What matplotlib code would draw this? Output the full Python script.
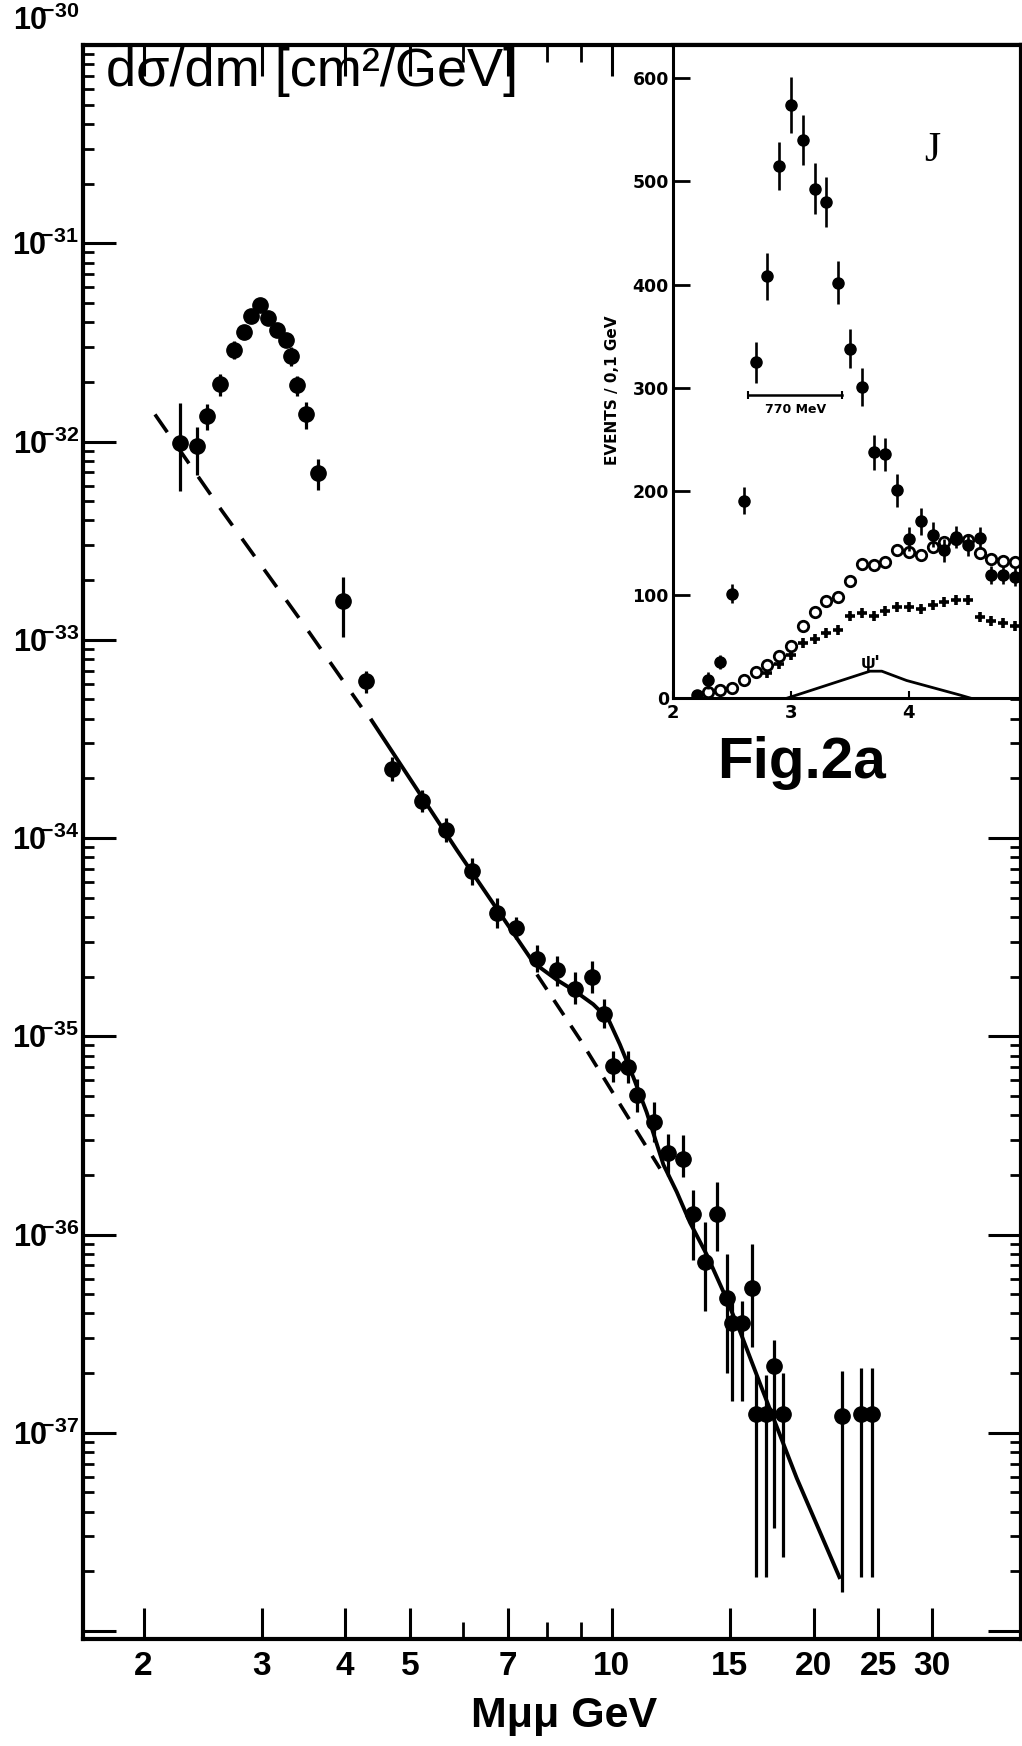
import matplotlib
matplotlib.use("Agg")
import matplotlib.pyplot as plt
from matplotlib.ticker import (FixedLocator, FixedFormatter, FuncFormatter,
                               LogLocator, NullFormatter)
from matplotlib.transforms import blended_transform_factory
import numpy as np


# main panel: d(sigma)/dm against dimuon mass (GeV, cm^2/GeV)
MASS = [2.27, 2.40, 2.49, 2.60, 2.73, 2.82, 2.89, 2.98, 3.07, 3.16, 3.26, 3.32,
        3.39, 3.50, 3.64, 3.97, 4.30, 4.69, 5.20, 5.66, 6.19, 6.73, 7.19, 7.73,
        8.29, 8.81, 9.33, 9.75, 10.05, 10.58, 10.92, 11.57, 12.14, 12.77, 13.23,
        13.75, 14.33, 14.84, 15.10, 15.63, 16.18, 16.40, 16.98, 17.44, 18.03,
        22.03, 23.57, 24.47]
SIGMA = [9.8e-33, 9.5e-33, 1.34e-32, 1.94e-32, 2.89e-32, 3.57e-32, 4.28e-32,
         4.90e-32, 4.20e-32, 3.64e-32, 3.24e-32, 2.70e-32, 1.93e-32, 1.38e-32,
         6.9e-33, 1.57e-33, 6.2e-34, 2.24e-34, 1.54e-34, 1.10e-34, 6.8e-35,
         4.18e-35, 3.52e-35, 2.44e-35, 2.17e-35, 1.74e-35, 1.99e-35, 1.30e-35,
         7.1e-36, 7.0e-36, 5.05e-36, 3.71e-36, 2.57e-36, 2.41e-36, 1.27e-36,
         7.3e-37, 1.27e-36, 4.8e-37, 3.57e-37, 3.57e-37, 5.35e-37, 1.24e-37,
         1.24e-37, 2.16e-37, 1.24e-37, 1.21e-37, 1.24e-37, 1.24e-37]
SIGMA_LO = [5.6e-33, 6.8e-33, 1.15e-32, 1.70e-32, 2.60e-32, 3.30e-32, 4.00e-32,
            4.60e-32, 3.90e-32, 3.40e-32, 3.00e-32, 2.40e-32, 1.70e-32, 1.16e-32,
            5.7e-33, 1.03e-33, 5.4e-34, 1.95e-34, 1.35e-34, 9.6e-35, 5.8e-35,
            3.5e-35, 3.1e-35, 2.1e-35, 1.8e-35, 1.45e-35, 1.65e-35, 1.1e-35,
            5.85e-36, 5.8e-36, 4.15e-36, 2.93e-36, 1.98e-36, 1.95e-36, 7.4e-37,
            4.1e-37, 8.3e-37, 2.0e-37, 1.45e-37, 1.45e-37, 2.7e-37, 1.87e-38,
            1.87e-38, 3.3e-38, 2.36e-38, 1.58e-38, 1.87e-38, 1.87e-38]
SIGMA_HI = [1.56e-32, 1.19e-32, 1.54e-32, 2.20e-32, 3.20e-32, 3.85e-32, 4.60e-32,
            5.20e-32, 4.50e-32, 3.90e-32, 3.50e-32, 3.00e-32, 2.15e-32, 1.59e-32,
            8.2e-33, 2.07e-33, 7.0e-34, 2.55e-34, 1.75e-34, 1.26e-34, 7.9e-35,
            5.0e-35, 4.0e-35, 2.9e-35, 2.55e-35, 2.1e-35, 2.4e-35, 1.55e-35,
            8.43e-36, 8.4e-36, 6.08e-36, 4.66e-36, 3.22e-36, 3.16e-36, 1.67e-36,
            1.16e-36, 1.85e-36, 8.0e-37, 4.6e-37, 4.6e-37, 9.0e-37, 1.96e-37,
            1.96e-37, 2.94e-37, 2.0e-37, 2.06e-37, 2.12e-37, 2.12e-37]

# continuum curves
CONT_DASH_X = [2.08, 2.61, 3.48, 4.23]
CONT_DASH_Y = [1.37e-32, 4.54e-33, 1.175e-33, 4.57e-34]
FIT_X = [4.38, 5.87, 7.64, 8.27, 8.81, 9.38, 9.88, 10.28, 10.77, 11.27, 11.94,
         12.50, 13.08, 13.86, 14.67, 15.54, 16.74, 18.88, 21.86]
FIT_Y = [3.92e-34, 8.70e-35, 2.35e-35, 1.93e-35, 1.69e-35, 1.45e-35, 1.22e-35,
         9.1e-36, 6.2e-36, 4.14e-36, 2.25e-36, 1.64e-36, 1.15e-36, 7.9e-37,
         5.15e-37, 3.24e-37, 1.68e-37, 5.9e-38, 1.87e-38]
NO_BUMP_X = [7.73, 8.97, 10.28, 11.80]
NO_BUMP_Y = [2.05e-35, 9.6e-36, 4.55e-36, 2.15e-36]

X_TICKS = [2, 3, 4, 5, 7, 10, 15, 20, 25, 30]
X_TICK_LABELS = ["2", "3", "4", "5", "7", "10", "15", "20", "25", "30"]
X_MINOR = [6, 8, 9]

# inset: events / 0.1 GeV
BINS = [2.2, 2.3, 2.4, 2.5, 2.6, 2.7, 2.8, 2.9, 3.0, 3.1, 3.2, 3.3, 3.4, 3.5,
        3.6, 3.7, 3.8, 3.9, 4.0, 4.1, 4.2, 4.3, 4.4, 4.5, 4.6, 4.7, 4.8, 4.9, 5.0]
J_EVENTS = [3, 17, 35, 101, 191, 325, 408, 515, 574, 540, 493, 480, 402, 338,
            301, 238, 236, 201, 154, 171, 158, 143, 156, 148, 155, 119, 119, 117,
            132]
J_ERR = [2, 8, 7, 9, 13, 20, 23, 23, 27, 24, 25, 24, 21, 19, 18, 17, 16, 16, 12,
         13, 12, 11, 11, 11, 11, 9, 9, 9, 9]
OPEN_BINS = BINS[1:]
OPEN_EVENTS = [6, 8, 10, 17, 25, 32, 41, 50, 70, 83, 94, 98, 113, 130, 129, 132,
               143, 141, 138, 146, 151, 154, 153, 140, 135, 133, 132, 125]
CROSS_BINS = BINS[6:]
CROSS_EVENTS = [24, 33, 42, 53, 57, 63, 66, 79, 82, 79, 84, 88, 88, 86, 90, 93,
                95, 95, 78, 75, 73, 70, 66]
PSI2_X = [2.97, 3.67, 3.77, 3.98, 4.43, 4.52]
PSI2_Y = [0, 26, 26, 17, 3, 0]
BAR_770 = (2.64, 3.43, 293)

plt.rcParams.update({
    "font.family": ["Liberation Sans", "DejaVu Sans"],
    "font.weight": "bold",
    "mathtext.fontset": "custom",
    "mathtext.rm": "Liberation Sans",
    "mathtext.bf": "Liberation Sans:bold",
    "mathtext.it": "Liberation Sans:italic",
    "axes.linewidth": 3,
})


def decade_text(exp):
    return r"$\mathbf{10^{\!\!\!-\!%d}}$" % (-exp)


def decade_label(value, pos):
    exp = int(round(np.log10(value)))
    # top decade is written by hand above the frame, bottom one is unlabelled
    if exp <= -38 or exp >= -30:
        return ""
    return decade_text(exp)


fig = plt.figure(figsize=(10.22, 17.46), dpi=100)
ax = fig.add_axes([0.0817, 0.0613, 0.9173, 0.9129])
ax.set_xscale("log")
ax.set_yscale("log")
ax.set_xlim(1.627, 40.8)
ax.set_ylim(10 ** -38.04, 1e-30)

sigma = np.array(SIGMA)
yerr = [sigma - np.array(SIGMA_LO), np.array(SIGMA_HI) - sigma]
ax.errorbar(MASS, SIGMA, yerr=yerr, fmt="o", color="black", ms=11,
            elinewidth=2.3, capsize=0, zorder=3)
ax.plot(CONT_DASH_X, CONT_DASH_Y, color="black", lw=2.6, dashes=(6, 4.5))
ax.plot(FIT_X, FIT_Y, color="black", lw=2.8)
ax.plot(NO_BUMP_X, NO_BUMP_Y, color="black", lw=2.6, dashes=(5, 3.5))

ax.xaxis.set_major_locator(FixedLocator(X_TICKS))
ax.xaxis.set_major_formatter(FixedFormatter(X_TICK_LABELS))
ax.xaxis.set_minor_locator(FixedLocator(X_MINOR))
ax.xaxis.set_minor_formatter(NullFormatter())
ax.yaxis.set_major_locator(LogLocator(base=10, numticks=20))
ax.yaxis.set_minor_locator(LogLocator(base=10, subs=np.arange(2, 10) * 1.0,
                                      numticks=100))
ax.yaxis.set_major_formatter(FuncFormatter(decade_label))
ax.yaxis.set_minor_formatter(NullFormatter())

ax.tick_params(which="both", direction="in", top=True, right=True,
               color="black")
ax.tick_params(axis="x", which="major", length=22, width=2.2, pad=9,
               labelsize=24)
ax.tick_params(axis="x", which="minor", length=12, width=2)
ax.tick_params(axis="y", which="major", length=24, width=2.2, pad=3,
               labelsize=22)
ax.tick_params(axis="y", which="minor", length=8, width=2)

top_label = blended_transform_factory(ax.transAxes, fig.transFigure)
ax.text(-0.0045, 0.997, decade_text(-30), transform=top_label, ha="right",
        va="top", fontsize=22)

ax.set_xlabel("Mμμ GeV", fontsize=31, fontweight="bold")
ax.xaxis.set_label_coords(0.513, -0.036)
ax.text(0.024, 0.999, "dσ/dm [cm²/GeV]", transform=ax.transAxes,
        ha="left", va="top", fontsize=39, fontweight="normal",
        family=["Liberation Sans", "DejaVu Sans"])

# inset
ins = fig.add_axes([0.6585, 0.6002, 0.3405, 0.3740])
ins.set_xlim(2.0, 4.95)
ins.set_ylim(0, 632)
ins.plot(CROSS_BINS, CROSS_EVENTS, linestyle="none", marker="+", ms=7.5,
         mew=2.6, color="black")
ins.plot(OPEN_BINS, OPEN_EVENTS, linestyle="none", marker="o", ms=7.5,
         mew=2.0, mfc="white", mec="black")
ins.errorbar(BINS, J_EVENTS, yerr=J_ERR, fmt="o", color="black", ms=8,
             elinewidth=1.9, capsize=0)
ins.plot(PSI2_X, PSI2_Y, color="black", lw=2)

ins.plot(BAR_770[:2], [BAR_770[2]] * 2, color="black", lw=1.8,
         marker="|", ms=6, mew=1.5)
ins.text(sum(BAR_770[:2]) / 2, BAR_770[2] - 14, "770 MeV", ha="center",
         va="center", fontsize=9, family="DejaVu Sans")
ins.text(4.2, 530, "J", ha="center", va="center", fontsize=30,
         fontweight="normal", family="Liberation Serif")
ins.text(3.67, 33, "ψ'", ha="center", va="center", fontsize=14)

ins.set_xticks([2, 3, 4])
ins.set_xticklabels(["2", "3", "4"])
ins.set_yticks([0, 100, 200, 300, 400, 500, 600])
ins.tick_params(axis="x", direction="in", length=5, width=1.5, pad=4,
                labelsize=13)
ins.tick_params(axis="y", direction="in", length=12, width=2, pad=3,
                labelsize=12.5)
for lab in ins.get_xticklabels() + ins.get_yticklabels():
    lab.set_family("DejaVu Sans")
    lab.set_fontweight("bold")
for side in ["left", "bottom"]:
    ins.spines[side].set_linewidth(2.2)

fig.text(0.599, 0.7766, "EVENTS / 0,1 GeV", rotation=90, ha="center",
         va="center", fontsize=11, family="DejaVu Sans", fontweight="bold")
fig.text(0.7838, 0.563, "Fig.2a", ha="center", va="center", fontsize=42,
         fontweight="bold")

fig.savefig("out.png", dpi=100)
